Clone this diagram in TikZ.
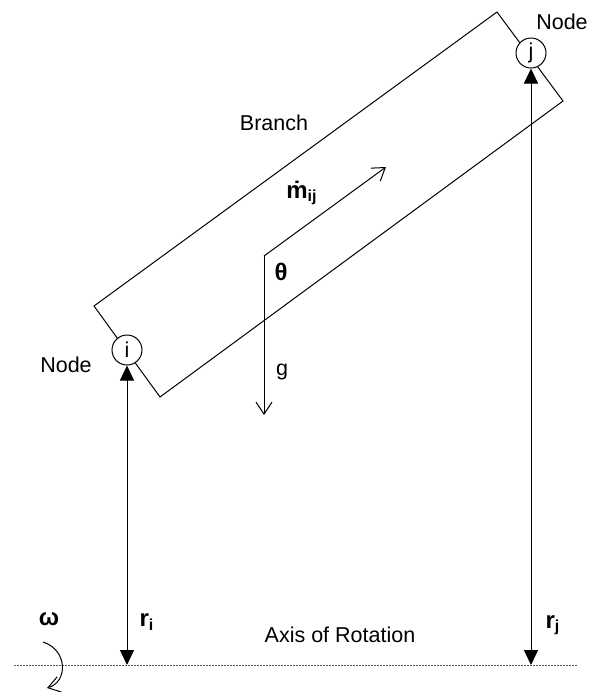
\documentclass[tikz,border=0pt]{standalone}
\usepackage{fontspec}
\setmainfont{Liberation Sans}
\usetikzlibrary{arrows.meta}

\begin{document}
\begin{tikzpicture}%
  [x=0.5pt,y=-0.5pt,line width=0.5pt,
   every node/.style={font=\fontsize{10.75}{13}\selectfont}]
  \tikzstyle{end node}=[circle,draw,fill=white,inner sep=0,minimum size=15pt]
  \tikzstyle{sym node}=[font=\fontsize{12}{14}\selectfont\bfseries]
  \tikzstyle{radius arrow}=[{Triangle[length=7.5pt,width=7pt]}-{Triangle[length=7.5pt,width=7pt]}]
  \tikzstyle{flow arrow}=[-{Straight Barb[length=6pt,width=8pt]}]
  \tikzstyle{axis line}=[gray!70!black,dash pattern=on 1pt off 0.5pt]
  \useasboundingbox (0,0) rectangle (593,692);
  % branch outline
  \coordinate (bl) at (94,306);
  \coordinate (tr) at (497,12);
  \coordinate (br) at (563,101);
  \coordinate (lb) at (160,397);
  \draw (bl) -- (tr) -- (br) -- (lb) -- cycle;
  % end nodes
  \node(ni)[end node] at (127,350) {i};
  \node(nj)[end node] at (531,53) {j};
  \node(nodei) at (66,365) {Node};
  \node(nodej) at (562,22) {Node};
  \node(branch) at (274,123) {Branch};
  % axis
  \coordinate (axl) at (14,665);
  \coordinate (axr) at (577,665);
  \draw[axis line] (axl) -- (axr);
  \node(axis) at (340,635) {Axis of Rotation};
  \draw[radius arrow] (ni.south) -- (ni.south |- axl);
  \draw[radius arrow] (nj.south) -- (nj.south |- axl);
  \node(ri)[sym node] at (147,622) {r\textsubscript{i}};
  \node(rj)[sym node] at (553,625) {r\textsubscript{j}};
  % flow and gravity
  \coordinate (o) at (264,256);
  \coordinate (mtip) at (386,167);
  \coordinate (gtip) at (264,415);
  \draw[flow arrow] (o) -- (mtip);
  \draw[flow arrow] (o) -- (gtip);
  \node(mdot)[sym node] at (302,193) {\.m\textsubscript{ij}};
  \node(theta)[sym node] at (281,272) {θ};
  \node(g) at (282,372) {g};
  % rotation
  \node(omega)[sym node] at (49,619) {ω};
  \coordinate (w0) at (43,642);
  \coordinate (w1) at (47,688);
  \draw[flow arrow] (w0) .. controls (68,650) and (68,682) .. (w1);
\end{tikzpicture}
\end{document}
